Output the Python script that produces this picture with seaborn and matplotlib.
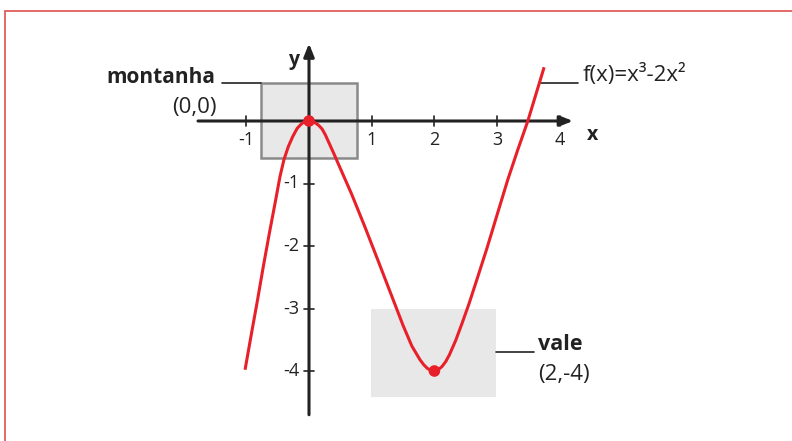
import numpy as np
import pandas as pd
import seaborn as sns
import matplotlib.pyplot as plt
from matplotlib.patches import Rectangle
from matplotlib.lines import Line2D

# Curve points (stylised cubic)
curve_x = [-1.02, -0.914, -0.822, -0.729, -0.633, -0.531, -0.463, -0.40, -0.33, -0.26,
           -0.19, -0.14, -0.10, -0.05, 0.0, 0.05, 0.11, 0.16, 0.21, 0.26, 0.31, 0.40,
           0.50, 0.68, 0.89, 1.10, 1.30, 1.50, 1.64, 1.77, 1.83, 1.89, 1.95, 2.0,
           2.06, 2.12, 2.18, 2.24, 2.34, 2.44, 2.55, 2.68, 2.84, 3.0, 3.17, 3.33,
           3.49, 3.62, 3.75]
curve_y = [-3.98, -3.38, -2.87, -2.33, -1.80, -1.26, -0.89, -0.62, -0.41, -0.25,
           -0.12, -0.065, -0.03, -0.008, 0.0, -0.01, -0.035, -0.075, -0.13, -0.22, -0.33, -0.53,
           -0.76, -1.17, -1.69, -2.23, -2.75, -3.27, -3.60, -3.82, -3.90, -3.96, -3.99, -4.0,
           -3.98, -3.93, -3.85, -3.74, -3.51, -3.24, -2.93, -2.53, -2.03, -1.50, -0.94, -0.46,
           0.0, 0.43, 0.86]

# Highlighted points
point_x = [0, 2]
point_y = [0, -4]

x_ticks = [-1, 1, 2, 3, 4]
y_ticks = [-1, -2, -3, -4]

text_color = '#222222'
red = '#e8202a'

sns.set_style('white')
plt.rcParams['font.family'] = ['Open Sans', 'DejaVu Sans']

fig = plt.figure(figsize=(7.92, 4.41), dpi=100)
ax = fig.add_axes([0, 0, 1, 1])
ax.set_xlim(-309 / 62.7, (792 - 309) / 62.7)
ax.set_ylim((121 - 441) / 62.5, 121 / 62.5)
ax.axis('off')

# Boxes around the mountain and the valley
ax.add_patch(Rectangle((-0.77, -0.59), 1.54, 1.2, facecolor='#e8e8e8',
                       edgecolor='#8a8a8a', lw=1.8, zorder=1))
ax.add_patch(Rectangle((0.99, -4.41), 2.0, 1.41, facecolor='#e8e8e8',
                       edgecolor='none', zorder=1))

# Axes with arrows
arrow = dict(arrowstyle='-|>,head_length=0.55,head_width=0.22', color=text_color,
             lw=2.2, mutation_scale=14, shrinkA=0, shrinkB=0)
ax.annotate('', xy=(4.21, 0), xytext=(-1.77, 0), arrowprops=arrow, zorder=2)
ax.annotate('', xy=(0, 1.24), xytext=(0, -4.7), arrowprops=arrow, zorder=2)

# Tick marks and labels
for t in x_ticks:
    ax.plot([t, t], [-0.08, 0.08], color=text_color, lw=1.2, zorder=2)
    ax.text(t, -0.31, str(t), ha='center', va='center', fontsize=13, color=text_color)
for t in y_ticks:
    ax.plot([-0.08, 0.08], [t, t], color=text_color, lw=1.2, zorder=2)
    ax.text(-0.15, t, str(t), ha='right', va='center', fontsize=13, color=text_color)

ax.text(-0.24, 0.98, 'y', ha='center', va='center', fontsize=14, fontweight='bold', color=text_color)
ax.text(4.53, -0.22, 'x', ha='center', va='center', fontsize=14, fontweight='bold', color=text_color)

# Curve and points
sns.lineplot(x=curve_x, y=curve_y, sort=False, ax=ax, color=red, lw=2.2, zorder=3,
             solid_joinstyle='round', solid_capstyle='butt')
sns.scatterplot(x=point_x, y=point_y, ax=ax, color=red, s=70, edgecolor='none', zorder=4)

# Annotations
ax.plot([-1.38, -0.77], [0.61, 0.61], color=text_color, lw=1.2)
ax.text(-1.50, 0.69, 'montanha', ha='right', va='center', fontsize=15,
        fontweight='bold', color=text_color)
ax.text(-1.47, 0.22, '(0,0)', ha='right', va='center', fontsize=16, color=text_color)

ax.plot([3.70, 4.29], [0.61, 0.61], color=text_color, lw=1.2)
ax.text(4.37, 0.73, 'f(x)=x³-2x²', ha='left', va='center', fontsize=16, color=text_color)

ax.plot([2.99, 3.59], [-3.69, -3.69], color=text_color, lw=1.2)
ax.text(3.65, -3.58, 'vale', ha='left', va='center', fontsize=15.5,
        fontweight='bold', color=text_color)
ax.text(3.65, -4.06, '(2,-4)', ha='left', va='center', fontsize=16, color=text_color)

# Red frame (top and left edges)
border = '#e35d5d'
fig.add_artist(Line2D([5 / 792, 1], [1 - 10.5 / 441, 1 - 10.5 / 441], color=border, lw=1.3,
                      transform=fig.transFigure))
fig.add_artist(Line2D([5 / 792, 5 / 792], [0, 1 - 10.5 / 441], color=border, lw=1.3,
                      transform=fig.transFigure))

fig.savefig('out.png', dpi=100)
